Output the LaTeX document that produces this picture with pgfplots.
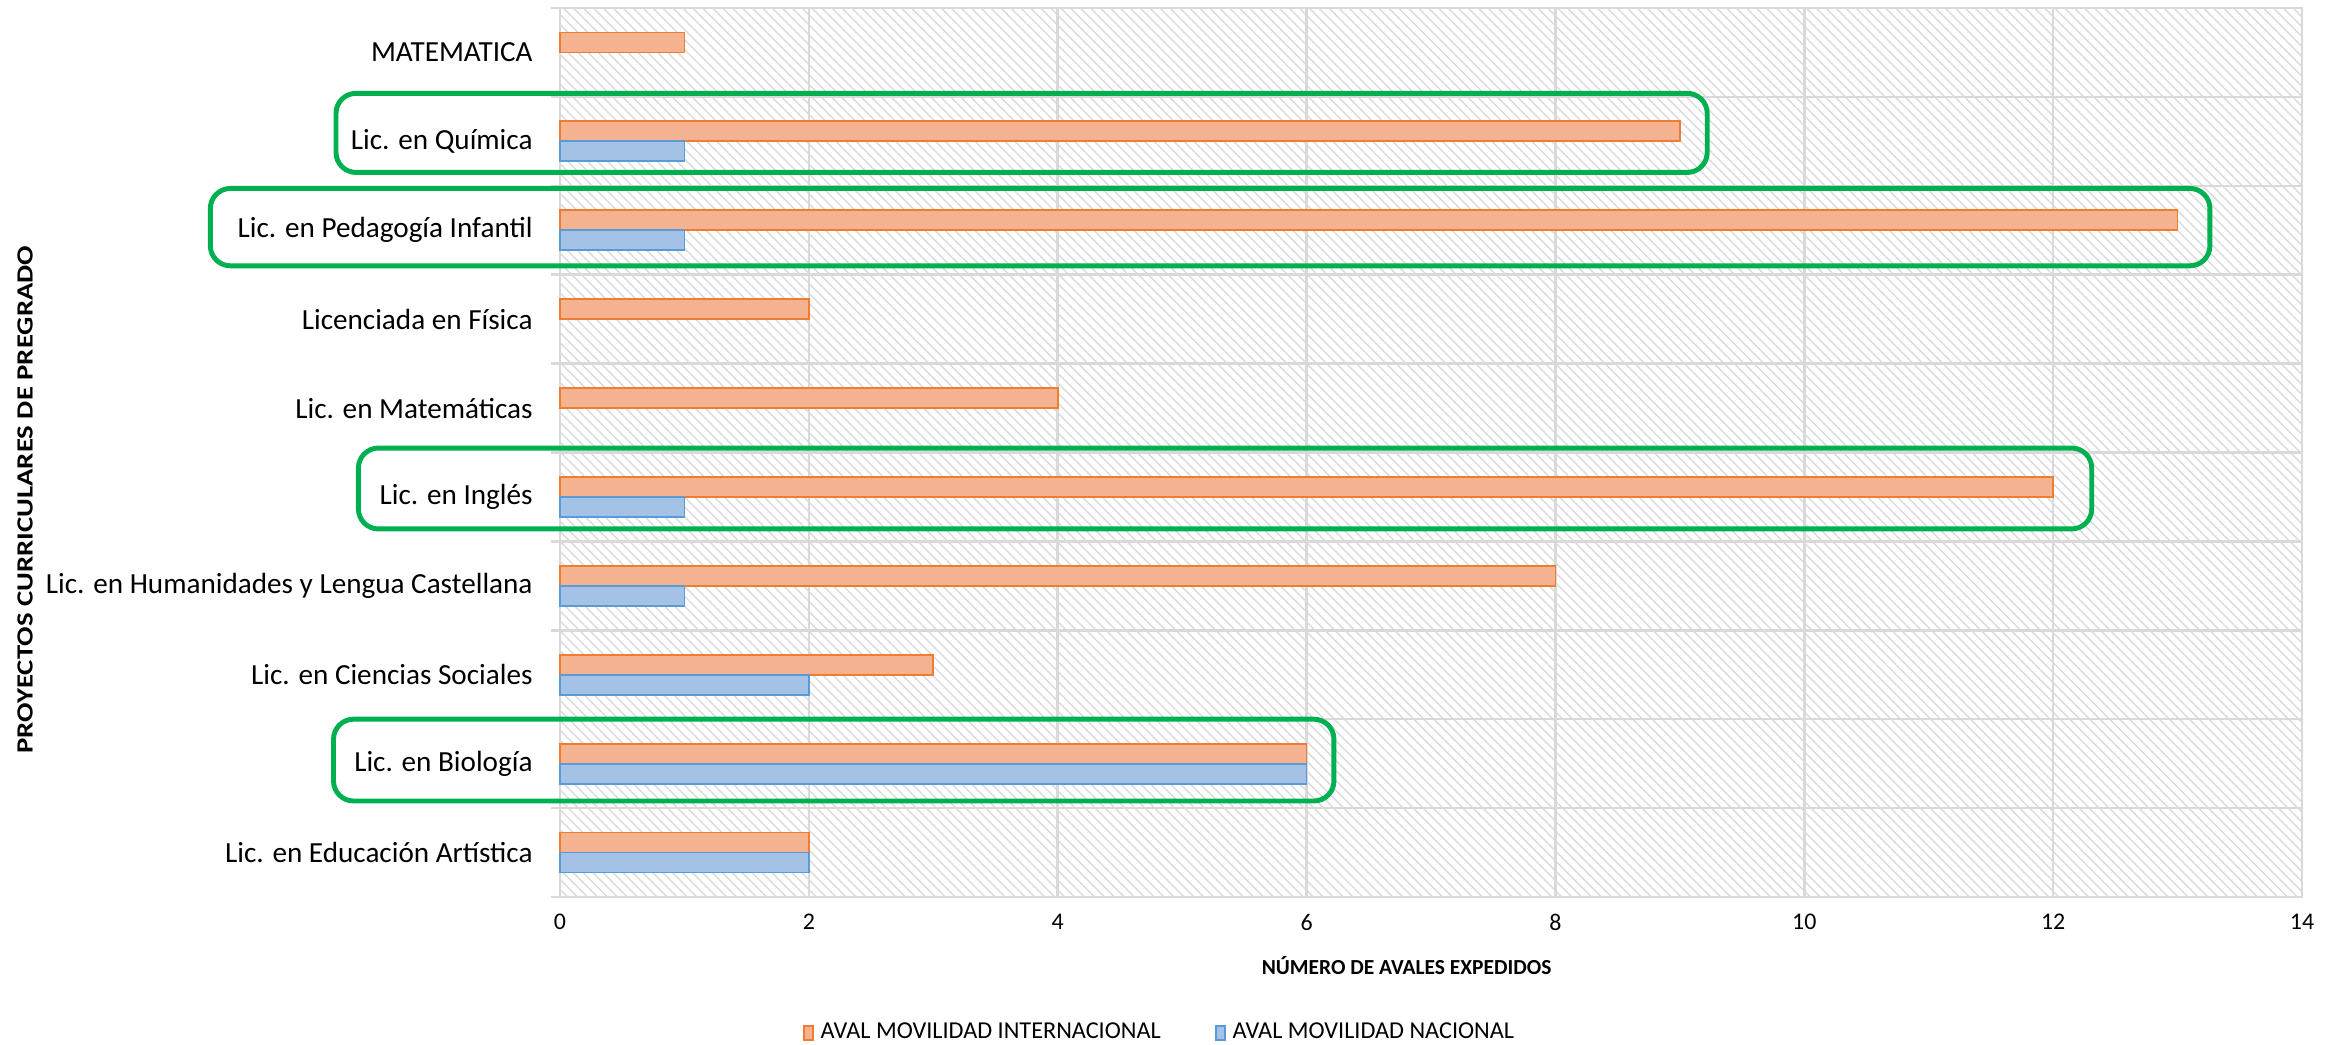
\documentclass[border=0pt]{standalone}
\usepackage{pgfplots}
\pgfplotsset{compat=1.18}
\usepackage{fontspec}
\setmainfont{Carlito}
\usetikzlibrary{patterns.meta}

\definecolor{intfill}{HTML}{F5B291}
\definecolor{intline}{HTML}{ED7D31}
\definecolor{nacfill}{HTML}{A4C2E6}
\definecolor{nacline}{HTML}{5B9BD5}
\definecolor{gridc}{HTML}{D9D9D9}
\definecolor{hatch}{HTML}{DADADA}
\definecolor{marco}{HTML}{00B050}

\begin{document}
\begin{tikzpicture}
\path[use as bounding box] (-5.60,-1.48) rectangle (17.75,8.97);
\begin{axis}[
    scale only axis, width=17.42cm, height=8.89cm,
    xbar, bar width=0.225,
    xmin=0, xmax=14, ymin=-0.5, ymax=9.5,
    xtick={0,2,...,14},
    ytick={0,...,9},
    yticklabels={Lic. en Educación Artística, Lic. en Biología, Lic. en Ciencias Sociales,
        Lic. en Humanidades y Lengua Castellana, Lic. en Inglés\ , Lic. en Matemáticas,
        Licenciada en Física, Lic. en Pedagogía Infantil, Lic. en Química, MATEMATICA\ },
    minor ytick={-0.5,0.5,...,9.5},
    xmajorgrids, yminorgrids,
    grid style={gridc, line width=0.7pt},
    minor grid style={gridc, line width=0.7pt},
    axis line style={gridc, line width=0.7pt},
    tick align=outside, tick pos=left,
    major tick length=0pt, minor tick length=0.09cm,
    minor tick style={gridc, line width=0.7pt},
    axis background/.style={pattern={Lines[angle=-45,distance=2pt,line width=0.4pt]}, pattern color=hatch},
    /pgf/number format/assume math mode=true,
    xticklabel style={font=\fontsize{6.8}{8}\selectfont, yshift=-0.05cm},
    yticklabel style={font=\fontsize{8.3}{10}\selectfont, xshift=-0.15cm},
    xlabel={\textbf{NÚMERO DE AVALES EXPEDIDOS}},
    xlabel style={font=\fontsize{6.1}{8}\selectfont, at={(axis description cs:0.486,-0.0776)}, anchor=center},
    ylabel={\textbf{PROYECTOS CURRICULARES DE PREGRADO}},
    ylabel style={font=\fontsize{6.6}{8}\selectfont, at={(axis description cs:-0.3071,0.447)}, anchor=center, xscale=1.24},
    legend style={draw=none, fill=none, font=\fontsize{6.9}{8}\selectfont,
        at={(axis description cs:0.3456,-0.153)}, anchor=center, legend columns=2,
        /tikz/every even column/.append style={column sep=0.47cm}},
    legend image code/.code={\draw[#1] (0cm,-0.07cm) rectangle (0.09cm,0.07cm);},
    clip=false,
]
\addplot[fill=intfill, draw=intline, line width=0.5pt, bar shift=0.1125] coordinates {
    (2,0) (6,1) (3,2) (8,3) (12,4) (4,5) (2,6) (13,7) (9,8) (1,9)
};
\addlegendentry{AVAL MOVILIDAD INTERNACIONAL}
\addplot[fill=nacfill, draw=nacline, line width=0.5pt, bar shift=-0.1125] coordinates {
    (2,0) (6,1) (2,2) (1,3) (1,4) (1,7) (1,8)
};
\addlegendentry{AVAL MOVILIDAD NACIONAL}

\draw[marco, line width=1.4pt, rounded corners=0.2cm] (axis cs:-1.80,7.65) rectangle (axis cs:9.22,8.54);
\draw[marco, line width=1.4pt, rounded corners=0.2cm] (axis cs:-2.81,6.60) rectangle (axis cs:13.26,7.47);
\draw[marco, line width=1.4pt, rounded corners=0.2cm] (axis cs:-1.62,3.64) rectangle (axis cs:12.31,4.55);
\draw[marco, line width=1.4pt, rounded corners=0.2cm] (axis cs:-1.82,0.58) rectangle (axis cs:6.22,1.50);
\end{axis}
\end{tikzpicture}
\end{document}
